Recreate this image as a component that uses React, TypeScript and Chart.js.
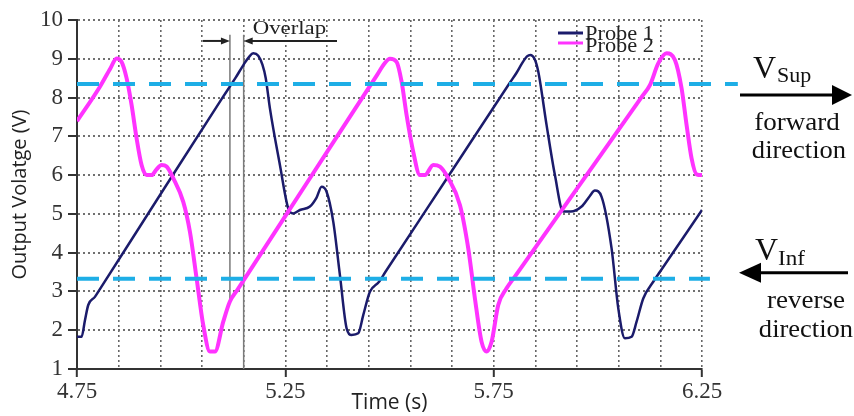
import React, { useEffect, useRef } from 'react';
import { Chart, registerables } from 'chart.js';

Chart.register(...registerables);

// ---- data ----
const probe1Time = [4.750, 4.761, 4.769, 4.777, 4.793, 4.805, 4.950, 5.100, 5.130, 5.150, 5.163, 5.173, 5.185, 5.195, 5.203, 5.213, 5.237, 5.257, 5.269, 5.285, 5.309, 5.325, 5.337, 5.349, 5.365, 5.381, 5.397, 5.409, 5.425, 5.437, 5.453, 5.475, 5.490, 5.640, 5.790, 5.805, 5.818, 5.830, 5.838, 5.848, 5.857, 5.877, 5.897, 5.917, 5.935, 5.961, 5.980, 5.993, 6.009, 6.033, 6.049, 6.065, 6.081, 6.093, 6.109, 6.133, 6.150, 6.250];
const probe1Volt = [1.83, 1.83, 2.25, 2.65, 2.86, 3.06, 5.50, 8.01, 8.50, 8.85, 9.05, 9.14, 9.08, 8.85, 8.50, 7.72, 6.26, 5.14, 5.01, 5.10, 5.19, 5.42, 5.70, 5.57, 4.80, 3.42, 2.05, 1.88, 1.92, 2.39, 2.99, 3.25, 3.50, 5.95, 8.40, 8.64, 8.88, 9.06, 9.10, 9.00, 8.67, 7.29, 6.00, 5.06, 5.06, 5.19, 5.45, 5.60, 5.44, 4.11, 2.57, 1.79, 1.83, 2.22, 2.82, 3.25, 3.52, 5.10];

const probe2Time = [4.750, 4.805, 4.830, 4.845, 4.857, 4.869, 4.881, 4.893, 4.905, 4.917, 4.929, 4.941, 4.953, 4.965, 4.981, 5.005, 5.021, 5.037, 5.053, 5.069, 5.081, 5.101, 5.117, 5.135, 5.300, 5.470, 5.488, 5.501, 5.517, 5.529, 5.541, 5.557, 5.573, 5.585, 5.605, 5.621, 5.641, 5.669, 5.689, 5.705, 5.721, 5.733, 5.745, 5.761, 5.781, 5.800, 5.950, 6.105, 6.125, 6.145, 6.165, 6.185, 6.201, 6.213, 6.225, 6.237, 6.250];
const probe2Volt = [7.39, 8.28, 8.75, 9.01, 8.92, 8.50, 7.81, 6.95, 6.26, 6.00, 6.00, 6.15, 6.26, 6.22, 5.92, 5.31, 4.54, 3.34, 2.13, 1.45, 1.45, 2.22, 2.74, 3.04, 5.77, 8.58, 8.88, 9.00, 8.92, 8.41, 7.55, 6.60, 6.00, 6.00, 6.26, 6.22, 5.92, 5.23, 4.11, 2.82, 1.70, 1.45, 1.70, 2.65, 3.08, 3.37, 5.65, 8.01, 8.32, 8.88, 9.14, 8.97, 8.24, 7.29, 6.43, 6.02, 6.00];

const seriesNames = ['Probe 1', 'Probe 2'];
const xGridValues = [4.75, 4.85, 4.95, 5.05, 5.15, 5.25, 5.35, 5.45, 5.55, 5.65, 5.75, 5.85, 5.95, 6.05, 6.15, 6.25];
const xTickLabels = ['4.75', '5.25', '5.75', '6.25'];
const yTickValues = [1, 2, 3, 4, 5, 6, 7, 8, 9, 10];

const vSup = 8.35;
const vInf = 3.33;
const vSupDashEnd = 6.336;
const vInfDashEnd = 6.269;
const overlapStart = 5.117;
const overlapEnd = 5.15;
const overlapStartBottom = 2.78;
const overlapTop = 9.62;
const overlapArrowLevel = 9.46;
const overlapArrowLeftFrom = 5.052;
const overlapArrowRightFrom = 5.374;

const NAVY = '#1b1b6b';
const PINK = '#ff33ff';
const CYAN = '#1eaee6';
const SERIF = "'Liberation Serif', 'Times New Roman', serif";
const SANS = "'Open Sans', 'Noto Sans', sans-serif";

function stretchText(ctx: CanvasRenderingContext2D, text: string, x: number, y: number, font: string, sx: number, align: CanvasTextAlign, color: string) {
  ctx.save();
  ctx.translate(x, y);
  ctx.scale(sx, 1);
  ctx.font = font;
  ctx.fillStyle = color;
  ctx.textAlign = align;
  ctx.textBaseline = 'alphabetic';
  ctx.fillText(text, 0, 0);
  ctx.restore();
}

function arrow(ctx: CanvasRenderingContext2D, xFrom: number, xTip: number, y: number, headLen: number, headHalf: number, lw: number, color: string) {
  const dir = xTip > xFrom ? 1 : -1;
  ctx.save();
  ctx.strokeStyle = color;
  ctx.fillStyle = color;
  ctx.lineWidth = lw;
  ctx.beginPath();
  ctx.moveTo(xFrom, y);
  ctx.lineTo(xTip - dir * headLen * 0.8, y);
  ctx.stroke();
  ctx.beginPath();
  ctx.moveTo(xTip, y);
  ctx.lineTo(xTip - dir * headLen, y - headHalf);
  ctx.lineTo(xTip - dir * headLen, y + headHalf);
  ctx.closePath();
  ctx.fill();
  ctx.restore();
}

const annotationPlugin = {
  id: 'figureAnnotations',
  beforeDatasetsDraw(chart: any) {
    const { ctx, scales } = chart;
    const x = scales.x;
    const y = scales.y;
    ctx.save();
    ctx.strokeStyle = '#7a7a7a';
    ctx.lineWidth = 1.5;
    ctx.beginPath();
    ctx.moveTo(x.getPixelForValue(overlapStart), y.getPixelForValue(overlapTop));
    ctx.lineTo(x.getPixelForValue(overlapStart), y.getPixelForValue(overlapStartBottom));
    ctx.moveTo(x.getPixelForValue(overlapEnd), y.getPixelForValue(overlapTop));
    ctx.lineTo(x.getPixelForValue(overlapEnd), y.getPixelForValue(1));
    ctx.stroke();
    ctx.restore();
  },
  afterDatasetsDraw(chart: any) {
    const { ctx, scales, chartArea } = chart;
    const x = scales.x;
    const y = scales.y;

    // dashed threshold lines
    ctx.save();
    ctx.strokeStyle = CYAN;
    ctx.lineWidth = 4;
    ctx.setLineDash([22, 14]);
    const ySup = y.getPixelForValue(vSup);
    const yInf = y.getPixelForValue(vInf);
    ctx.beginPath();
    ctx.moveTo(chartArea.left, ySup);
    ctx.lineTo(x.getPixelForValue(vSupDashEnd), ySup);
    ctx.stroke();
    ctx.beginPath();
    ctx.moveTo(chartArea.left, yInf);
    ctx.lineTo(x.getPixelForValue(vInfDashEnd), yInf);
    ctx.stroke();
    ctx.restore();

    // overlap arrows and label
    const ay = y.getPixelForValue(overlapArrowLevel);
    arrow(ctx, x.getPixelForValue(overlapArrowLeftFrom), x.getPixelForValue(overlapStart), ay, 9, 3.5, 2, '#222');
    arrow(ctx, x.getPixelForValue(overlapArrowRightFrom), x.getPixelForValue(overlapEnd), ay, 9, 3.5, 2, '#222');
    stretchText(ctx, 'Overlap', x.getPixelForValue(overlapEnd) + 9, ay - 7, `19px ${SERIF}`, 1.2, 'left', '#222');

    // legend
    const lx = 558;
    ctx.save();
    ctx.lineWidth = 3;
    ctx.strokeStyle = NAVY;
    ctx.beginPath(); ctx.moveTo(lx, 33); ctx.lineTo(lx + 25, 33); ctx.stroke();
    ctx.strokeStyle = PINK;
    ctx.beginPath(); ctx.moveTo(lx, 43); ctx.lineTo(lx + 25, 43); ctx.stroke();
    ctx.restore();
    stretchText(ctx, seriesNames[0], lx + 27, 40, `20px ${SERIF}`, 1.12, 'left', '#222');
    stretchText(ctx, seriesNames[1], lx + 27, 52, `20px ${SERIF}`, 1.12, 'left', '#222');

    // right side annotations
    const r = chartArea.right;
    stretchText(ctx, 'V', r + 51, ySup - 6, `32px ${SERIF}`, 1, 'left', '#111');
    stretchText(ctx, 'Sup', r + 75, ySup - 2, `22px ${SERIF}`, 1, 'left', '#111');
    arrow(ctx, r + 38, r + 150, ySup + 11, 20, 10, 3, '#000');
    stretchText(ctx, 'forward', r + 95, ySup + 46, `26px ${SERIF}`, 1.04, 'center', '#111');
    stretchText(ctx, 'direction', r + 97, ySup + 74, `26px ${SERIF}`, 1.02, 'center', '#111');

    stretchText(ctx, 'V', r + 53, yInf - 19, `32px ${SERIF}`, 1, 'left', '#111');
    stretchText(ctx, 'Inf', r + 76, yInf - 14, `22px ${SERIF}`, 1.05, 'left', '#111');
    arrow(ctx, r + 146, r + 37, yInf - 6, 22, 10, 3, '#000');
    stretchText(ctx, 'reverse', r + 104, yInf + 29, `26px ${SERIF}`, 1.04, 'center', '#111');
    stretchText(ctx, 'direction', r + 104, yInf + 58, `26px ${SERIF}`, 1.02, 'center', '#111');
  },
};

export default function App() {
  const ref = useRef<HTMLCanvasElement | null>(null);

  useEffect(() => {
    if (!ref.current) return;
    const p1 = probe1Time.map((t, i) => ({ x: t, y: probe1Volt[i] }));
    const p2 = probe2Time.map((t, i) => ({ x: t, y: probe2Volt[i] }));
    const isLabelled = (v: number) => xTickLabels.includes(Number(v).toFixed(2));

    const chart = new Chart(ref.current, {
      type: 'line',
      data: {
        datasets: [
          {
            label: seriesNames[1],
            data: p2,
            borderColor: PINK,
            backgroundColor: PINK,
            borderWidth: 4,
            pointRadius: 0,
            cubicInterpolationMode: 'monotone',
            order: 0,
          },
          {
            label: seriesNames[0],
            data: p1,
            borderColor: NAVY,
            backgroundColor: NAVY,
            borderWidth: 2.5,
            pointRadius: 0,
            cubicInterpolationMode: 'monotone',
            order: 1,
          },
        ],
      },
      options: {
        responsive: false,
        animation: false,
        events: [],
        layout: { padding: { left: 0, right: 152, top: 20, bottom: 0 } },
        plugins: { legend: { display: false }, tooltip: { enabled: false } },
        scales: {
          x: {
            type: 'linear',
            min: 4.75,
            max: 6.25,
            afterBuildTicks: (scale: any) => {
              scale.ticks = xGridValues.map((v) => ({ value: v }));
            },
            afterFit: (scale: any) => {
              scale.height = 47;
            },
            ticks: {
              autoSkip: false,
              maxRotation: 0,
              padding: 1,
              color: '#333',
              font: { family: SERIF, size: 23 },
              callback: (v: any) => (isLabelled(Number(v)) ? Number(v).toFixed(2) : ''),
            },
            grid: {
              display: true,
              drawOnChartArea: true,
              color: '#666',
              lineWidth: 1.6,
              tickLength: 8,
              tickWidth: 2,
              tickColor: (c: any) => (c.tick && isLabelled(c.tick.value) ? '#333' : 'rgba(0,0,0,0)'),
            },
            border: { display: true, color: '#333', width: 2, dash: [2, 3] },
            title: {
              display: true,
              text: 'Time (s)',
              color: '#222',
              font: { family: SANS, size: 21 },
              padding: { top: 0, bottom: 0 },
            },
          },
          y: {
            type: 'linear',
            min: 1,
            max: 10,
            afterBuildTicks: (scale: any) => {
              scale.ticks = yTickValues.map((v) => ({ value: v }));
            },
            afterFit: (scale: any) => {
              scale.width = 77;
            },
            ticks: {
              autoSkip: false,
              padding: 5,
              color: '#333',
              font: { family: SERIF, size: 23 },
              callback: (v: any) => String(v),
            },
            grid: {
              display: true,
              drawOnChartArea: true,
              color: '#707070',
              lineWidth: 2,
              tickLength: 9,
              tickWidth: 2,
              tickColor: '#333',
            },
            border: { display: true, color: '#333', width: 2, dash: [2, 3] },
            title: {
              display: true,
              text: 'Output Volatge (V)',
              color: '#222',
              font: { family: SANS, size: 20 },
              padding: { top: 8, bottom: 0 },
            },
          },
        },
      },
      plugins: [annotationPlugin],
    } as any);

    return () => chart.destroy();
  }, []);

  return (
    <div style={{ position: 'absolute', left: 0, top: 0, width: 854, height: 416, background: '#fff' }}>
      <canvas ref={ref} width={854} height={416} style={{ display: 'block' }} />
    </div>
  );
}
